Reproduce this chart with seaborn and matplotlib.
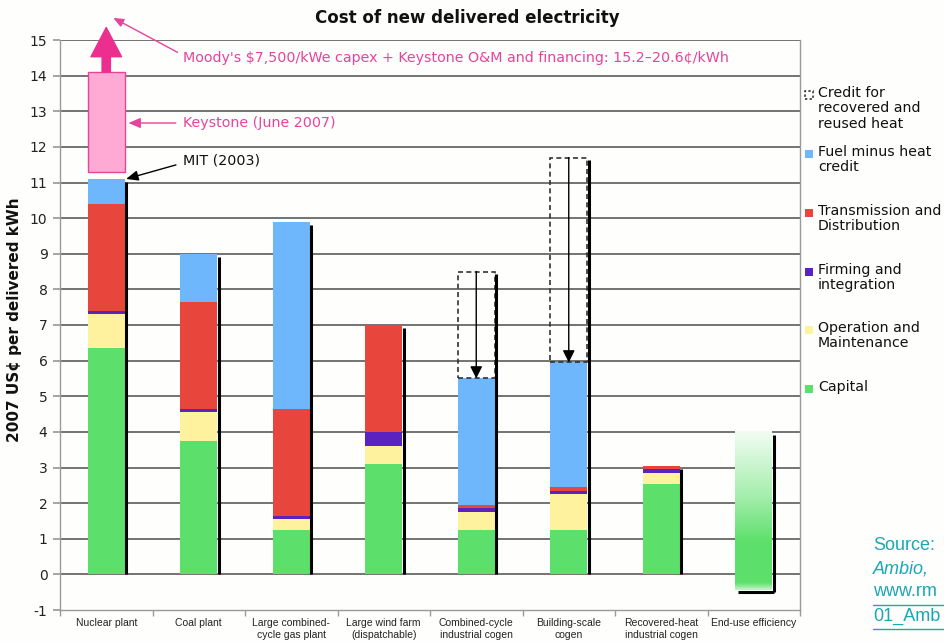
import numpy as np
import seaborn as sns
import matplotlib.pyplot as plt
from matplotlib.patches import Rectangle
from matplotlib.lines import Line2D

# ---- data -----------------------------------------------------------------
categories = ["Nuclear plant", "Coal plant", "Large combined-\ncycle gas plant",
              "Large wind farm\n(dispatchable)", "Combined-cycle\nindustrial cogen",
              "Building-scale\ncogen", "Recovered-heat\nindustrial cogen",
              "End-use efficiency"]
capital = [6.35, 3.75, 1.25, 3.1, 1.25, 1.25, 2.55, 0.0]
operation = [0.95, 0.8, 0.3, 0.5, 0.5, 1.0, 0.3, 0.0]
firming = [0.1, 0.1, 0.1, 0.4, 0.1, 0.1, 0.1, 0.0]
transmission = [3.0, 3.0, 3.0, 3.0, 0.1, 0.1, 0.1, 0.0]
fuel = [0.7, 1.35, 5.25, 0.0, 3.55, 3.5, 0.0, 0.0]
heat_credit = [0.0, 0.0, 0.0, 0.0, 3.0, 5.75, 0.0, 0.0]
efficiency_range = (-0.45, 4.0)
keystone_range = (11.3, 14.1)
moodys_arrow_top = 15.35
yticks = list(range(-1, 16))

# ---- style ----------------------------------------------------------------
BG = "#fefefc"
C_CAP, C_OM, C_FIRM, C_TD, C_FUEL = "#5de06b", "#fff29e", "#5a23c0", "#e8453d", "#6eb7fc"
PINK_TXT, PINK_ARROW, PINK_FILL, PINK_EDGE = "#e6449c", "#ec2f8e", "#ffa9d5", "#e8459a"
TEAL = "#1aa8b4"
W = 0.4

sns.set_theme(style="white")
plt.rcParams["font.family"] = ["DejaVu Sans"]

fig = plt.figure(figsize=(9.44, 6.42), dpi=100, facecolor=BG)
ax = fig.add_axes([60 / 944, 1 - 610 / 642, 740 / 944, 570 / 642])
ax.set_facecolor(BG)


def fpx(x, y):
    return x / 944, 1 - y / 642


# stacked bars: draw running totals from the top layer down
layers = [capital, operation, firming, transmission, fuel]
colors = [C_CAP, C_OM, C_FIRM, C_TD, C_FUEL]
cums = np.cumsum(np.array(layers), axis=0)
for vals, col in reversed(list(zip(cums, colors))):
    sns.barplot(x=categories, y=vals, color=col, width=W, saturation=1,
                linewidth=0, errorbar=None, ax=ax, zorder=3)

totals = cums[-1]
xs = np.arange(len(categories))

# end-use efficiency: gradient bar
lo, hi = efficiency_range
yy = np.linspace(lo, hi, 300)
strength = np.interp(yy, [lo, lo + 0.2, 0.9, 2.2, hi], [0.35, 1.0, 1.0, 0.55, 0.08])
g = np.array(plt.matplotlib.colors.to_rgb(C_CAP))
img = (1 - strength[:, None]) * np.ones(3) + strength[:, None] * g
ax.imshow(img[:, None, :], extent=(xs[7] - W / 2, xs[7] + W / 2, lo, hi),
          origin="lower", aspect="auto", zorder=3, interpolation="bilinear")

# heat credit dashed boxes with arrows
for i, (t, c) in enumerate(zip(totals, heat_credit)):
    if c > 0:
        ax.add_patch(Rectangle((i - W / 2, t), W, c, fill=False, ec="#333333",
                               lw=1.2, ls=(0, (3, 2)), zorder=4))
        ax.annotate("", xy=(i, t), xytext=(i, t + c),
                    arrowprops=dict(arrowstyle="-|>,head_length=0.6,head_width=0.3",
                                    color="black", lw=1, shrinkA=0, shrinkB=0),
                    zorder=5)

# black shadow lines on the right of each bar
off = 0.016
for i, (t, c) in enumerate(zip(totals, heat_credit)):
    if i == 7:
        ax.vlines(i + W / 2 + off, lo - 0.05, hi - 0.08, color="black", lw=2.2, zorder=5)
        ax.hlines(lo - 0.05, i - W / 2 + 0.03, i + W / 2 + off + 0.005,
                  color="black", lw=2.2, zorder=5)
    else:
        ax.vlines(i + W / 2 + off, 0, t + c - 0.08, color="black", lw=2.2, zorder=5)

# Keystone estimate box and arrow above the nuclear bar
ax.add_patch(Rectangle((xs[0] - W / 2, keystone_range[0]), W,
                       keystone_range[1] - keystone_range[0],
                       fc=PINK_FILL, ec=PINK_EDGE, lw=1, zorder=4))
ax.annotate("", xy=(xs[0], moodys_arrow_top), xytext=(xs[0], keystone_range[1]),
            arrowprops=dict(arrowstyle="simple,head_length=21,head_width=22,tail_width=6",
                            mutation_scale=1, color=PINK_ARROW, shrinkA=0, shrinkB=0),
            annotation_clip=False, zorder=6)

ANN = 10.3
ax.annotate("Moody's $7,500/kWe capex + Keystone O&M and financing: 15.2\u201320.6\u00a2/kWh",
            xy=(0.076, 15.62), xytext=(0.832, 14.49), fontsize=ANN, color=PINK_TXT,
            ha="left", va="center", annotation_clip=False,
            arrowprops=dict(arrowstyle="-|>,head_length=0.6,head_width=0.25",
                            color=PINK_TXT, lw=1, shrinkA=2, shrinkB=0,
                            relpos=(0, 0.7)))
ax.annotate("Keystone (June 2007)", xy=(0.24, 12.67), xytext=(0.832, 12.67),
            fontsize=ANN, color=PINK_TXT, ha="left", va="center",
            arrowprops=dict(arrowstyle="-|>,head_length=0.7,head_width=0.3",
                            color=PINK_TXT, lw=1, shrinkA=3, shrinkB=0,
                            relpos=(0, 0.5)))
ax.annotate("MIT (2003)", xy=(0.215, 11.1), xytext=(0.832, 11.63),
            fontsize=ANN, color="#111111", ha="left", va="center",
            arrowprops=dict(arrowstyle="-|>,head_length=0.7,head_width=0.3",
                            color="black", lw=1, shrinkA=3, shrinkB=0,
                            relpos=(0, 0.3)))

# ---- axes -----------------------------------------------------------------
ax.set_xlim(-0.5, len(categories) - 0.5)
ax.set_ylim(-1, 15)
ax.set_yticks(yticks)
ax.set_yticklabels([str(v) for v in yticks])
ax.set_axisbelow(True)
ax.grid(axis="y", color="#4d4d4d", lw=1.1)
ax.grid(axis="x", visible=False)
ax.get_ygridlines()[0].set_visible(False)
for side in ["left", "right", "bottom"]:
    ax.spines[side].set_color("#9a9a9a")
    ax.spines[side].set_linewidth(1.0)
ax.spines["top"].set_visible(False)

ax.set_xticks(np.arange(-0.5, len(categories), 1), minor=True)
ax.tick_params(axis="x", which="major", length=0, pad=6)
ax.tick_params(axis="x", which="minor", bottom=True, length=4, color="#9a9a9a")
ax.tick_params(axis="y", left=True, length=5, color="#9a9a9a", labelsize=10,
               labelcolor="#222222", pad=4)
for lab in ax.get_xticklabels():
    lab.set_fontfamily(["DejaVu Sans Condensed", "Liberation Sans"])
    lab.set_fontsize(7.5)
    lab.set_color("#222222")
    lab.set_linespacing(1.2)

ax.set_xlabel("")
ax.set_ylabel("2007 US\u00a2 per delivered kWh", fontsize=11, fontweight="bold",
              color="#111111")
ax.yaxis.set_label_coords(-0.052, 0.51)

fig.text(*fpx(467, 18), "Cost of new delivered electricity", ha="center", va="center",
         fontsize=12, fontweight="bold", color="#111111")

# ---- legend ---------------------------------------------------------------
legend_items = [
    ("Credit for\nrecovered and\nreused heat", None, 95),
    ("Fuel minus heat\ncredit", C_FUEL, 154),
    ("Transmission and\nDistribution", C_TD, 213),
    ("Firming and\nintegration", C_FIRM, 272),
    ("Operation and\nMaintenance", C_OM, 330),
    ("Capital", C_CAP, 389),
]
for label, col, ypx in legend_items:
    x0, y0 = fpx(805, ypx + 4)
    if col is None:
        fig.add_artist(Rectangle((x0, y0), 8 / 944, 8 / 642, transform=fig.transFigure,
                                 fill=False, ec="#222222", lw=1.1, ls=(0, (1.5, 1.5))))
    else:
        fig.add_artist(Rectangle((x0, y0), 8 / 944, 8 / 642, transform=fig.transFigure,
                                 fc=col, ec="none"))
    fig.text(*fpx(818, ypx - 9), label, ha="left", va="top", fontsize=10.2,
             color="#111111", linespacing=1.12)

# ---- source note ----------------------------------------------------------
src_font = ["Liberation Sans", "DejaVu Sans"]
fig.text(*fpx(873, 545), "Source:", ha="left", va="center", fontsize=13,
         color=TEAL, family=src_font)
fig.text(*fpx(873, 569), "Ambio,", ha="left", va="center", fontsize=13,
         color=TEAL, family=src_font, style="italic")
fig.text(*fpx(873, 592), "www.rm", ha="left", va="center", fontsize=13,
         color=TEAL, family=src_font)
fig.text(*fpx(873, 616), "01_Amb", ha="left", va="center", fontsize=13,
         color=TEAL, family=src_font)
for upx in (605, 629):
    fig.add_artist(Line2D([873 / 944, 1.0], [1 - upx / 642] * 2,
                          transform=fig.transFigure, color=TEAL, lw=1))

fig.savefig("out.png", dpi=100, facecolor=BG)
